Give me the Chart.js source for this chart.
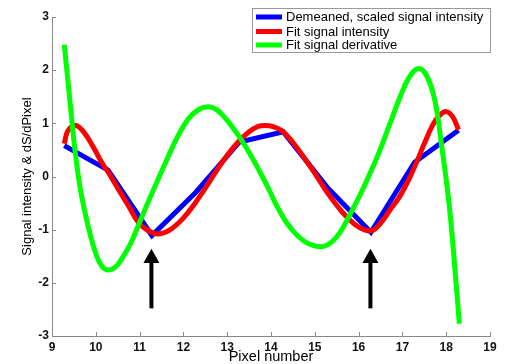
<!DOCTYPE html>
<html>
<head>
<meta charset="utf-8">
<script src="https://cdn.jsdelivr.net/npm/chart.js@4.4.1/dist/chart.umd.min.js"></script>
<style>
  html, body { margin: 0; padding: 0; background: #fff; }
  #wrap { width: 507px; height: 364px; }
</style>
</head>
<body>
<div id="wrap"><canvas id="chart" width="507" height="364"></canvas></div>
<script>
// measured pixel intensities (demeaned, scaled)
const pixelX = [9.28, 10.28, 11.28, 12.28, 13.28, 14.28, 15.28, 16.28, 17.28, 18.28];
const scaledIntensity = [0.58, 0.12, -1.11, -0.3, 0.65, 0.84, -0.2, -1.05, 0.27, 0.87];

// fitted intensity curve
const fitX = [9.28, 9.35, 9.45, 9.56, 9.7, 9.83, 10.0, 10.13, 10.29, 10.5, 10.75, 10.97, 11.2, 11.43,
  11.7, 12.0, 12.25, 12.5, 12.75, 13.0, 13.25, 13.5, 13.7, 13.86, 14.05, 14.25, 14.5, 14.75,
  15.0, 15.25, 15.5, 15.75, 16.0, 16.3, 16.5, 16.7, 16.95, 17.15, 17.33, 17.5, 17.7, 17.85, 18.0, 18.15, 18.28];
const fitIntensity = [0.62, 0.84, 0.94, 0.96, 0.86, 0.71, 0.47, 0.27, 0.07, -0.22, -0.56, -0.86, -1.02, -1.08,
  -1.0, -0.78, -0.52, -0.22, 0.1, 0.4, 0.65, 0.84, 0.94, 0.96, 0.94, 0.86, 0.64, 0.36,
  0.06, -0.26, -0.54, -0.78, -0.95, -1.02, -0.88, -0.65, -0.36, -0.05, 0.28, 0.62, 0.98, 1.15, 1.22, 1.12, 0.88];

// fitted derivative curve
const derivX = [9.28, 9.4, 9.525, 9.65, 9.83, 10.02, 10.15, 10.29, 10.45, 10.59, 10.8, 11.05, 11.3, 11.58,
  11.85, 12.11, 12.35, 12.57, 12.75, 12.91, 13.1, 13.33, 13.55, 13.75, 13.95, 14.13, 14.35, 14.59,
  14.85, 15.16, 15.4, 15.6, 15.8, 16.0, 16.2, 16.45, 16.7, 16.95, 17.15, 17.36, 17.55, 17.74, 17.9,
  18.05, 18.16, 18.3];
const fitDerivative = [2.48, 1.5, 0.49, -0.25, -0.95, -1.5, -1.7, -1.76, -1.7, -1.55, -1.25, -0.76, -0.28, 0.24,
  0.72, 1.08, 1.26, 1.31, 1.26, 1.14, 0.95, 0.68, 0.38, 0.08, -0.24, -0.55, -0.86, -1.1,
  -1.26, -1.32, -1.22, -1.02, -0.72, -0.4, -0.05, 0.42, 0.96, 1.5, 1.86, 2.03, 1.9, 1.43, 0.55,
  -0.4, -1.35, -2.77];

// arrows marking the minima
const arrowPixels = [11.27, 16.27];
const arrowTail = -2.48;
const arrowHeadBase = -1.61;
const arrowTip = -1.36;

const xMin = 9, xMax = 19, yMin = -3, yMax = 3;

const pts = (xs, ys) => xs.map((v, i) => ({ x: v, y: ys[i] }));
const FONT = "'Liberation Sans', Arial, Helvetica, sans-serif";

const extras = {
  id: 'extras',
  afterDatasetsDraw(chart) {
    const { ctx, chartArea: a, scales: { x, y } } = chart;
    ctx.save();

    // arrows
    ctx.fillStyle = '#000';
    arrowPixels.forEach(p => {
      const cx = x.getPixelForValue(p);
      const tip = y.getPixelForValue(arrowTip);
      const base = y.getPixelForValue(arrowHeadBase);
      const tail = y.getPixelForValue(arrowTail);
      ctx.fillRect(cx - 2, base - 1, 4, tail - base + 1);
      ctx.beginPath();
      ctx.moveTo(cx, tip);
      ctx.lineTo(cx + 8, base + 1);
      ctx.lineTo(cx - 8, base + 1);
      ctx.closePath();
      ctx.fill();
    });

    // inward tick marks (matlab style)
    ctx.strokeStyle = '#888';
    ctx.lineWidth = 1;
    x.ticks.forEach(t => {
      const p = Math.round(x.getPixelForValue(t.value)) + 0.5;
      ctx.beginPath(); ctx.moveTo(p, a.bottom); ctx.lineTo(p, a.bottom - 4); ctx.stroke();
    });
    y.ticks.forEach(t => {
      const p = Math.round(y.getPixelForValue(t.value)) + 0.5;
      ctx.beginPath(); ctx.moveTo(a.left, p); ctx.lineTo(a.left + 4, p); ctx.stroke();
    });

    // legend box
    ctx.fillStyle = '#fff';
    ctx.fillRect(252, 8, 239, 45);
    ctx.strokeStyle = '#999';
    ctx.strokeRect(252.5, 8.5, 238, 44);
    const rows = [17, 31.5, 45];
    ctx.font = '13px ' + FONT;
    ctx.textBaseline = 'middle';
    chart.data.datasets.forEach((ds, i) => {
      ctx.strokeStyle = ds.borderColor;
      ctx.lineWidth = 5;
      ctx.beginPath(); ctx.moveTo(256, rows[i]); ctx.lineTo(282, rows[i]); ctx.stroke();
      ctx.fillStyle = '#000';
      ctx.fillText(ds.label, 286, rows[i] + 0.5);
    });
    ctx.restore();
  }
};

new Chart(document.getElementById('chart'), {
  type: 'line',
  data: {
    datasets: [
      { label: 'Demeaned, scaled signal intensity', data: pts(pixelX, scaledIntensity),
        borderColor: '#0000ff', borderWidth: 5, pointRadius: 0, tension: 0, order: 2 },
      { label: 'Fit signal intensity', data: pts(fitX, fitIntensity),
        borderColor: '#ff0000', borderWidth: 5, pointRadius: 0, tension: 0.4, order: 1 },
      { label: 'Fit signal derivative', data: pts(derivX, fitDerivative),
        borderColor: '#00ff00', borderWidth: 5, pointRadius: 0, tension: 0.4, order: 0 }
    ]
  },
  options: {
    responsive: false,
    animation: false,
    layout: { padding: { left: 0, top: 17, right: 17, bottom: 0 } },
    plugins: { legend: { display: false }, tooltip: { enabled: false } },
    scales: {
      x: {
        type: 'linear', min: xMin, max: xMax,
        ticks: { stepSize: 1, padding: 4, color: '#111', font: { family: FONT, size: 12, weight: 'bold' } },
        grid: { display: true, drawOnChartArea: false, drawTicks: false },
        border: { display: true, color: '#888' },
        title: { display: true, text: 'Pixel number', color: '#000',
          font: { family: FONT, size: 14.5, lineHeight: 1 }, padding: { top: 0, bottom: 0 } },
        afterFit(s) { s.height = 28; }
      },
      y: {
        min: yMin, max: yMax,
        ticks: { stepSize: 1, padding: 3, color: '#111', font: { family: FONT, size: 12, weight: 'bold' } },
        grid: { display: true, drawOnChartArea: false, drawTicks: false },
        border: { display: true, color: '#888' },
        title: { display: true, text: 'Signal intensity & dS/dPixel', color: '#000',
          font: { family: FONT, size: 13, lineHeight: 1.2 }, padding: { top: 20, bottom: 0 } },
        afterFit(s) { s.width = 52; }
      }
    }
  },
  plugins: [extras]
});
</script>
</body>
</html>
